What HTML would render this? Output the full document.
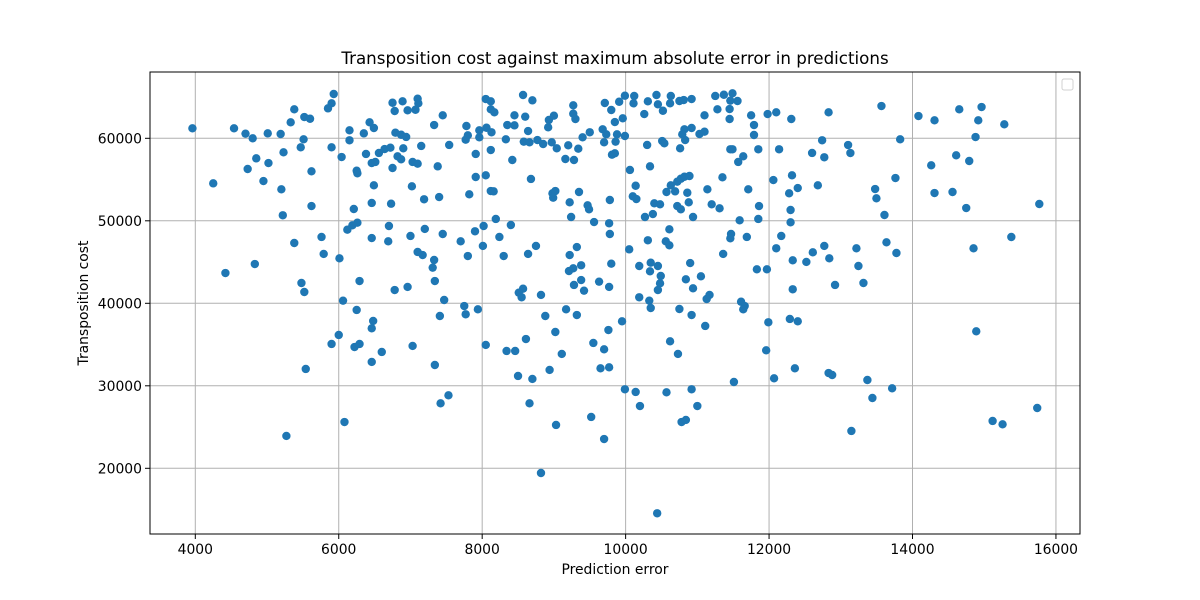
<!DOCTYPE html>
<html>
<head>
<meta charset="utf-8">
<style>
  html, body { margin: 0; padding: 0; background: #fff; }
  svg { display: block; }
  text { font-family: "DejaVu Sans", "Liberation Sans", sans-serif; fill: #000; }
</style>
</head>
<body>
<svg id="chart" width="1200" height="600" viewBox="0 0 1200 600">
  <rect x="0" y="0" width="1200" height="600" fill="#fff"/>
  <rect x="150" y="72" width="930" height="462" fill="#fff"/>
  <g id="grid"></g>
  <g id="points"></g>
  <rect x="150" y="72" width="930" height="462" fill="none" stroke="#000" stroke-width="1"/>
  <g id="xticks"></g>
  <g id="yticks"></g>
  <text x="615" y="64" font-size="16.7" text-anchor="middle">Transposition cost against maximum absolute error in predictions</text>
  <text x="615" y="574" font-size="13.9" text-anchor="middle">Prediction error</text>
  <text x="88" y="303" font-size="13.9" text-anchor="middle" transform="rotate(-90 88 303)">Transposition cost</text>
  <rect x="1062" y="79" width="11" height="11" rx="2" fill="#fff" stroke="#d0d0d0" stroke-width="1"/>
</svg>
<script>
const xTicks = [4000, 6000, 8000, 10000, 12000, 14000, 16000];
const yTicks = [20000, 30000, 40000, 50000, 60000];
const xTickLabels = ["4000", "6000", "8000", "10000", "12000", "14000", "16000"];
const yTickLabels = ["20000", "30000", "40000", "50000", "60000"];

const predictionError = [
3960,4540,4700,4800,5010,5190,5380,5330,5520,5600,5510,5470,5230,4850,5020,4730,4950,4250,5200,5620,5620,5220,5930,5900,5850,5900,6040,6150,6150,6430,6490,6350,6380,6560,6640,6460,6510,6250,6260,6490,6210,6460,6260,6190,6120,6460,5760,5380,5790,6010,4830,4420,5480,5520,6290,6060,
6250,6480,6460,6000,5900,6220,6290,6600,6460,5540,6080,5270,
6750,6780,6890,6960,7100,7110,7070,7450,7330,6790,6870,6940,6720,6900,7150,7540,6820,6870,7030,7100,6750,7380,7780,7800,7770,7960,7960,7910,8050,8120,8120,8170,8060,8130,8120,8570,8700,8450,8600,8350,8450,8640,8330,8580,8660,8770,8850,8970,9040,8920,8930,9000,9200,9340,9160,9280,8420,9270,9270,9300,9400,9500,9710,9800,9910,9990,9850,9680,9730,9880,9700,9860,9990,9810,9850,
7910,8050,8680,7020,6730,7190,7400,7820,8120,8160,8980,9020,8990,9350,9220,9470,9490,9780,9240,8190,6700,7200,8020,8400,9560,9770,9780,6690,7000,7450,7900,7700,8240,8010,8750,9320,7100,7170,7800,8300,8640,9220,7330,7310,9380,9270,9210,9800,7340,6780,6960,7470,7750,7940,8570,8510,8550,8820,9170,9280,9380,9420,9630,9770,
7410,7770,8880,9320,9020,8610,8050,7030,8340,8460,9110,9550,9700,9760,9950,7340,8500,8700,8940,9650,9770,9990,7530,7420,8660,9520,9030,9700,8820,
9960,10120,10110,10310,10430,10450,10520,10630,10620,10750,10810,10920,10260,11250,11370,11490,11460,11560,11280,11450,11100,11450,11750,11790,11790,11980,12100,12310,12830,10820,10920,10790,10830,11030,11100,10300,10510,10540,10760,11460,11490,11640,11570,11850,12140,12600,12740,12770,
10060,10340,10140,10100,10150,10570,10630,10690,10720,10770,10820,10890,10860,10880,10400,10480,10720,10770,10270,10380,10940,11140,11350,11200,11310,11710,11860,11850,11590,12060,12320,12400,12280,12680,12300,12300,10610,10310,10560,10610,10050,11470,11460,11690,12170,12100,11360,12770,12610,12840,12330,12520,10190,10350,10450,10340,10900,10490,10480,10450,10840,11050,10940,11830,11970,12330,12920,10190,10330,10350,10750,11170,11130,11610,11660,
11640,10920,11110,11990,12290,12400,10620,10730,11960,12360,12830,12880,11510,12070,10140,10570,10920,10200,11000,10780,10840,10440,
13567,14083,14307,14652,14963,14917,15280,13828,14879,13102,13134,14609,14791,14261,13762,13479,13497,14307,14558,14749,15768,13609,15378,13637,13218,13776,14851,13246,13316,14889,13371,13716,13441,13148,15117,15256,15739
];

const transpositionCost = [
61210,61210,60560,60000,60600,60520,63510,61940,62580,62370,59880,58910,58300,57570,57000,56280,54820,54540,53820,56000,51790,50670,65370,64240,63630,58910,57730,60970,59760,61940,61250,60600,58100,58220,58700,57000,57130,56070,55760,54300,51430,52160,49770,49450,48920,47910,48040,47310,45980,45450,44760,43670,42460,41370,42700,40320,
39190,37860,36970,36160,35070,34700,35070,34100,32890,32040,25610,23920,
64310,63310,64480,63390,64800,64240,63460,62790,61610,60680,60430,60160,58860,58790,59070,59190,57820,57450,57130,56920,56400,56600,61490,60360,59830,60970,60120,58100,64760,64480,63510,63150,61280,60730,58580,65250,64600,62790,62620,61610,61570,60880,59880,59590,59510,59790,59310,59510,58790,61330,62220,62740,59150,58740,57490,57370,57370,64000,62980,62340,60120,60730,64280,63430,64430,65160,61970,61090,60480,60480,59510,59590,60280,58010,58180,
55310,55510,55070,54180,52070,52610,52880,53210,53610,53570,53330,53610,52800,53490,52240,51880,51390,52520,50460,50220,49370,49010,49370,49490,49850,49700,48400,47510,48160,48400,48730,47510,48040,46950,46950,46820,46220,45850,45730,45730,45980,45850,45250,44320,44610,44240,43910,44800,42700,41610,41980,40400,39670,39270,41770,41290,40730,41010,39270,42220,42820,41530,42620,41980,
38460,38670,38460,38580,36520,35670,34950,34830,34220,34220,33860,35190,34420,36760,37820,32520,31190,30830,31920,32120,32240,29580,28850,27880,27880,26220,25250,23550,19430,
62420,65130,64240,64480,65250,64120,63340,65130,64240,64520,64640,64760,62940,65130,65280,65450,64560,64520,63510,63550,62790,62340,62790,61610,60400,62940,63150,62340,63150,61090,61250,60480,59790,60520,60800,59190,59670,59390,58790,58670,58670,57820,57130,58670,58670,58220,59760,57700,
56160,56600,54250,52970,52640,53490,54300,53570,54740,55100,55340,55430,53400,52240,52120,52000,51790,51390,50460,50820,50460,53820,55270,52000,51510,53820,51790,50220,50060,54940,55510,53970,53330,54300,51310,49820,48970,47640,47510,47030,46540,48400,47880,48040,48160,46670,45980,46950,46180,45450,45210,45010,44520,44920,44520,43880,44880,43310,42420,41610,42910,43270,41820,44120,44120,41700,42220,40730,40320,39430,39310,41010,40520,40190,39670,
39270,38580,37250,37700,38100,37820,35390,33860,34300,32120,31550,31310,30460,30910,29250,29210,29580,27550,27550,25610,25860,14550,
63912,62701,62180,63513,63792,62180,61695,59877,60156,59186,58216,57937,57247,56726,55186,53853,52726,53368,53490,51550,52035,50702,48036,47393,46666,46096,46666,44521,42460,36606,30704,29698,28522,24523,25735,25335,27310
];

const NS = "http://www.w3.org/2000/svg";
const plotL = 150, plotR = 1080, plotT = 72, plotB = 534;
function xScale(v) { return 195.3 + (v - 4000) * 0.07172; }
function yScale(v) { return 468.3 - (v - 20000) * 0.00825; }

const grid = document.getElementById("grid");
const xg = document.getElementById("xticks");
const yg = document.getElementById("yticks");

xTicks.forEach(function (t, i) {
  const x = xScale(t);
  const gl = document.createElementNS(NS, "line");
  gl.setAttribute("x1", x); gl.setAttribute("x2", x);
  gl.setAttribute("y1", plotT); gl.setAttribute("y2", plotB);
  gl.setAttribute("stroke", "#b0b0b0"); gl.setAttribute("stroke-width", "1");
  
  
  grid.appendChild(gl);
  const tk = document.createElementNS(NS, "line");
  tk.setAttribute("x1", x); tk.setAttribute("x2", x);
  tk.setAttribute("y1", plotB); tk.setAttribute("y2", plotB + 5);
  tk.setAttribute("stroke", "#000"); tk.setAttribute("stroke-width", "1");
  
  
  xg.appendChild(tk);
  const tx = document.createElementNS(NS, "text");
  tx.setAttribute("x", x); tx.setAttribute("y", plotB + 20);
  tx.setAttribute("font-size", "13.9"); tx.setAttribute("text-anchor", "middle");
  tx.textContent = xTickLabels[i];
  
  
  xg.appendChild(tx);
});

yTicks.forEach(function (t, i) {
  const y = yScale(t);
  const gl = document.createElementNS(NS, "line");
  gl.setAttribute("x1", plotL); gl.setAttribute("x2", plotR);
  gl.setAttribute("y1", y); gl.setAttribute("y2", y);
  gl.setAttribute("stroke", "#b0b0b0"); gl.setAttribute("stroke-width", "1");
  
  
  grid.appendChild(gl);
  const tk = document.createElementNS(NS, "line");
  tk.setAttribute("x1", plotL - 5); tk.setAttribute("x2", plotL);
  tk.setAttribute("y1", y); tk.setAttribute("y2", y);
  tk.setAttribute("stroke", "#000"); tk.setAttribute("stroke-width", "1");
  
  
  yg.appendChild(tk);
  const tx = document.createElementNS(NS, "text");
  tx.setAttribute("x", plotL - 8); tx.setAttribute("y", y + 5);
  tx.setAttribute("font-size", "13.9"); tx.setAttribute("text-anchor", "end");
  tx.textContent = yTickLabels[i];
  
  
  yg.appendChild(tx);
});

const pts = document.getElementById("points");
const n = Math.min(predictionError.length, transpositionCost.length);
for (let i = 0; i < n; i++) {
  const c = document.createElementNS(NS, "circle");
  c.setAttribute("cx", xScale(predictionError[i]));
  c.setAttribute("cy", yScale(transpositionCost[i]));
  c.setAttribute("r", "4.2");
  c.setAttribute("fill", "#1f77b4");
  
  
  pts.appendChild(c);
}
</script>
</body>
</html>
